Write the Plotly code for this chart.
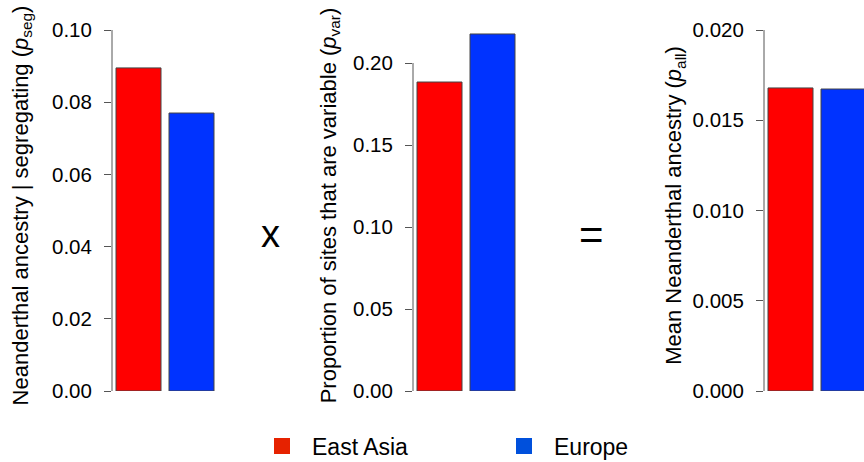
import plotly.graph_objects as go

regions = ["East Asia", "Europe"]
p_seg = [0.0895, 0.0770]
p_var = [0.1884, 0.2177]
p_all = [0.01679, 0.01673]
bar_colors = ["#FF0000", "#0033FF"]
legend_colors = ["#E62200", "#0050DC"]

titles = [
    "Neanderthal ancestry | segregating (<i>p</i><sub>seg</sub>)",
    "Proportion of sites that are variable (<i>p</i><sub>var</sub>)",
    "Mean Neanderthal ancestry (<i>p</i><sub>all</sub>)",
]
tick_vals = [
    [0.00, 0.02, 0.04, 0.06, 0.08, 0.10],
    [0.00, 0.05, 0.10, 0.15, 0.20],
    [0.000, 0.005, 0.010, 0.015, 0.020],
]
tick_fmt = [".2f", ".2f", ".3f"]
series = [p_seg, p_var, p_all]

W, H = 864, 462
FONT = "Liberation Sans, Arial, Helvetica, sans-serif"

def px_x(p):
    return p / W

def px_y(p):
    return (H - p) / H

ydom = [px_y(391), px_y(20)]
xdoms = [[px_x(112), px_x(218)], [px_x(413), px_x(519)], [px_x(764), 1.0]]
xranges = [[-0.5, 1.5], [-0.5, 1.5], [-0.5, -0.5 + 100 / 53]]
yranges = [[0, 371 / 3610], [0, 371 / 1640], [0, 371 / 18050]]
standoffs = [17, 10, 4]

fig = go.Figure()
for i in range(3):
    sfx = "" if i == 0 else str(i + 1)
    fig.add_trace(go.Bar(
        x=regions, y=series[i], xaxis="x" + sfx, yaxis="y" + sfx,
        marker=dict(color=bar_colors, line=dict(color="#444444", width=1)),
        showlegend=False, hoverinfo="x+y",
    ))
    fig.layout["xaxis" + sfx] = dict(
        domain=xdoms[i], range=xranges[i], visible=False, anchor="y" + sfx,
        type="category", fixedrange=True,
    )
    fig.layout["yaxis" + sfx] = dict(
        domain=ydom, range=yranges[i], anchor="x" + sfx,
        showgrid=False, zeroline=False, showline=False,
        ticks="outside", ticklen=7, tickwidth=1, tickcolor="#555555",
        tickvals=tick_vals[i], tickformat=tick_fmt[i],
        ticklabelstandoff=8,
        tickfont=dict(family=FONT, size=20.5, color="black"),
        title=dict(text=titles[i], font=dict(family=FONT, size=22, color="black"),
                   standoff=standoffs[i]),
    )
    fig.add_shape(type="line", xref="x" + sfx + " domain", yref="y" + sfx,
                  x0=0, x1=0, y0=tick_vals[i][0], y1=tick_vals[i][-1],
                  line=dict(color="#555555", width=1))

for name, col in zip(regions, legend_colors):
    fig.add_trace(go.Scatter(
        x=[None], y=[None], mode="markers", name=name,
        marker=dict(symbol="square", size=17, color=col, line=dict(width=0)),
    ))

fig.add_annotation(text="x", x=px_x(270), y=px_y(234), xref="paper", yref="paper",
                   xanchor="center", yanchor="middle",
                   showarrow=False, font=dict(family=FONT, size=38, color="black"))
fig.add_annotation(text="=", x=px_x(591.5), y=px_y(234), xref="paper", yref="paper",
                   xanchor="center", yanchor="middle",
                   showarrow=False, font=dict(family=FONT, size=42, color="black"))

fig.update_layout(
    width=W, height=H, autosize=False,
    margin=dict(l=0, r=0, t=0, b=0, autoexpand=False),
    paper_bgcolor="white", plot_bgcolor="white",
    bargap=0.151,
    showlegend=True,
    legend=dict(orientation="h", x=px_x(252), y=px_y(446), xanchor="left", yanchor="middle",
                itemwidth=50, entrywidth=177, entrywidthmode="pixels",
                font=dict(family=FONT, size=23, color="black"),
                bgcolor="rgba(0,0,0,0)", itemclick=False, itemdoubleclick=False),
)

post = (
    "var st=document.createElement('style');"
    "st.textContent='html,body{margin:0!important;padding:0!important;overflow:hidden!important;}';"
    "document.head.appendChild(st);"
)

fig.write_html("out.html", post_script=post,
               config={"responsive": False, "displayModeBar": False})
